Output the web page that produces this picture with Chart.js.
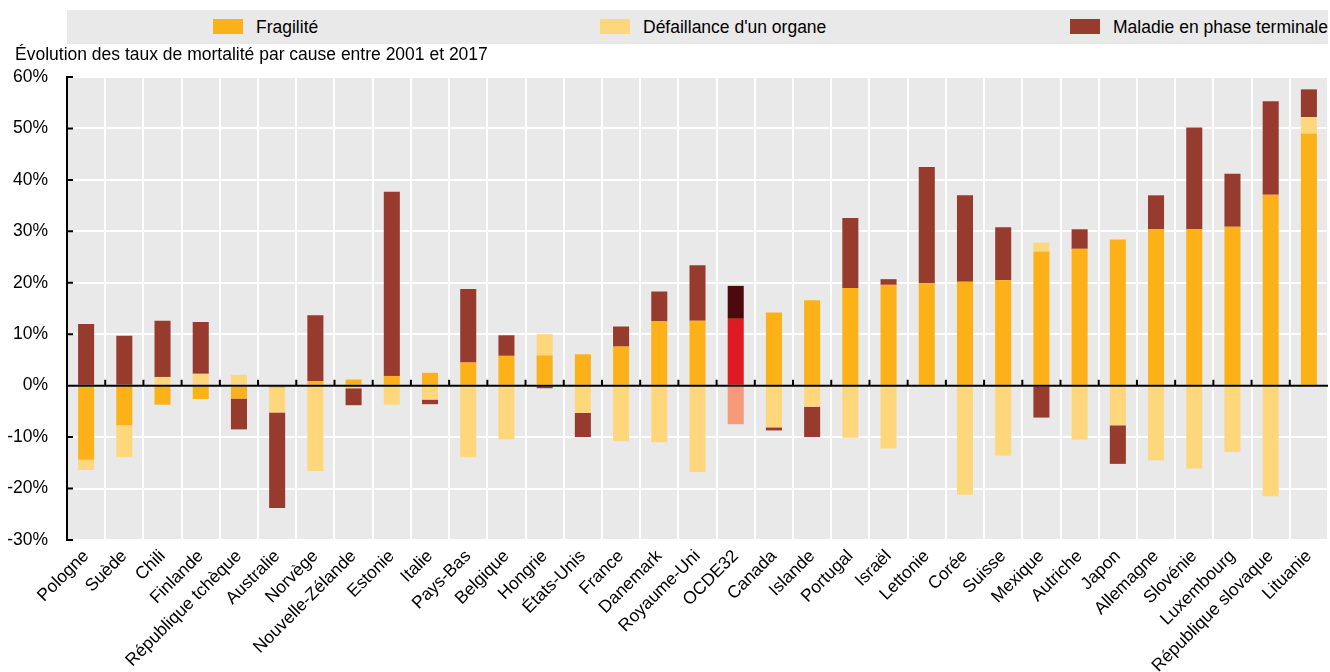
<!DOCTYPE html>
<html lang="fr">
<head>
<meta charset="utf-8">
<script src="https://cdn.jsdelivr.net/npm/chart.js@4.4.1/dist/chart.umd.min.js"></script>
<style>
  html, body { margin: 0; padding: 0; background: #fff; }
  #wrap { position: relative; width: 1330px; height: 672px; font-family: "Liberation Sans", Arial, sans-serif; }
  #legend { position: absolute; left: 67px; top: 10px; width: 1261px; height: 34px; background: #e9e9e9; }
  .item { position: absolute; top: 0; height: 34px; line-height: 34px; font-size: 17.5px; color: #000; white-space: nowrap; }
  .item span { display: inline-block; width: 30px; height: 15px; vertical-align: middle; margin-right: 13px; margin-top: -3px; }
  #ytitle { position: absolute; left: 15px; top: 44px; font-size: 17.5px; line-height: 20px; color: #000; white-space: nowrap; }
  canvas { position: absolute; left: 0; top: 0; }
</style>
</head>
<body>
<div id="wrap">
  <canvas id="chart" width="1330" height="672"></canvas>
  <div id="legend">
    <div class="item" style="left:146px"><span style="background:#fdb119"></span>Fragilité</div>
    <div class="item" style="left:533px"><span style="background:#fed77c"></span>Défaillance d'un organe</div>
    <div class="item" style="left:1003px"><span style="background:#963b2e"></span>Maladie en phase terminale</div>
  </div>
  <div id="ytitle">Évolution des taux de mortalité par cause entre 2001 et 2017</div>
</div>
<script>
// pays, du plus faible au plus fort
const categories = ['Pologne', 'Suède', 'Chili', 'Finlande', 'République tchèque', 'Australie', 'Norvège',
    'Nouvelle-Zélande', 'Estonie', 'Italie', 'Pays-Bas', 'Belgique', 'Hongrie', 'États-Unis', 'France',
    'Danemark', 'Royaume-Uni', 'OCDE32', 'Canada', 'Islande', 'Portugal', 'Israël', 'Lettonie', 'Corée',
    'Suisse', 'Mexique', 'Autriche', 'Japon', 'Allemagne', 'Slovénie', 'Luxembourg', 'République slovaque', 'Lituanie'];

// évolution en % par cause
const fragilite = [-14.4, -7.7, -3.7, -2.6, -2.5, -0.4, 0.9, 1.2, 1.9, 2.5, 4.5, 5.8, 5.9, 6.1, 7.6,
    12.5, 12.6, 13.0, 14.2, 16.6, 19.0, 19.6, 19.9, 20.2, 20.5, 26.1, 26.6, 28.4, 30.4, 30.4, 30.9, 37.1, 49.0];
const defaillance = [-2.0, -6.2, 1.7, 2.3, 2.1, -4.8, -16.6, -0.5, -3.7, -2.7, -13.9, -10.4, 4.1, -5.3, -10.8,
    -11.0, -16.8, -7.5, -8.1, -4.1, -10.1, -12.2, 0, -21.2, -13.6, 1.7, -10.5, -7.7, -14.5, -16.1, -12.9, -21.5, 3.2];
const maladie = [12.0, 9.7, 10.9, 10.1, -6.0, -18.6, 12.8, -3.3, 35.8, -0.9, 14.3, 4.0, -0.5, -4.7, 3.9,
    5.8, 10.8, 6.4, -0.6, -5.9, 13.6, 1.1, 22.6, 16.8, 10.3, -6.2, 3.8, -7.5, 6.6, 19.8, 10.3, 18.2, 5.4];

const yTicks = [-30, -20, -10, 0, 10, 20, 30, 40, 50, 60];

const OECD = 'OCDE32';
const FONT = { family: 'Liberation Sans', size: 17.5 };

// couleur normale / couleur de la moyenne OCDE
function colorFor(normal, oecd) {
    return ctx => categories[ctx.dataIndex] === OECD ? oecd : normal;
}

// fond gris, ligne du zéro et petites graduations
const decorPlugin = {
    id: 'decor',
    beforeDraw(chart) {
        const a = chart.chartArea;
        const c = chart.ctx;
        c.save();
        c.fillStyle = '#e9e9e9';
        c.fillRect(a.left, a.top, a.right - a.left, a.bottom - a.top);
        c.restore();
    },
    afterDatasetsDraw(chart) {
        const a = chart.chartArea;
        const c = chart.ctx;
        const x = chart.scales.x;
        const y = chart.scales.y;
        const y0 = y.getPixelForValue(0);
        c.save();
        c.strokeStyle = '#000';
        c.lineWidth = 2;
        c.beginPath();
        c.moveTo(a.left, y0);
        c.lineTo(a.right, y0);
        // graduations entre les pays
        for (let i = 0; i < categories.length - 1; i++) {
            const xb = (x.getPixelForValue(i) + x.getPixelForValue(i + 1)) / 2;
            c.moveTo(xb, y0);
            c.lineTo(xb, y0 - 6);
        }
        // graduations de l'axe vertical
        yTicks.forEach(v => {
            const yy = y.getPixelForValue(v);
            c.moveTo(a.left, yy);
            c.lineTo(a.left + 6, yy);
        });
        c.stroke();
        c.restore();
    }
};

new Chart(document.getElementById('chart'), {
    type: 'bar',
    data: {
        labels: categories,
        datasets: [
            { label: 'Fragilité', data: fragilite, backgroundColor: colorFor('#fdb119', '#e01a22') },
            { label: "Défaillance d'un organe", data: defaillance, backgroundColor: colorFor('#fed77c', '#f69a7b') },
            { label: 'Maladie en phase terminale', data: maladie, backgroundColor: colorFor('#963b2e', '#4d0a0c') }
        ]
    },
    options: {
        responsive: false,
        animation: false,
        devicePixelRatio: 1,
        layout: { padding: { top: 77, right: 2, left: 0, bottom: 0 } },
        datasets: { bar: { categoryPercentage: 1, barPercentage: 0.42 } },
        plugins: {
            legend: { display: false },
            tooltip: { enabled: false }
        },
        scales: {
            x: {
                stacked: true,
                afterFit(scale) { scale.height = 132; },
                grid: { color: '#fff', lineWidth: 2, drawTicks: false },
                border: { display: false },
                ticks: {
                    autoSkip: false,
                    minRotation: 45,
                    maxRotation: 45,
                    padding: 6,
                    color: '#000',
                    font: FONT
                }
            },
            y: {
                stacked: true,
                min: -30,
                max: 60,
                afterFit(scale) { scale.width = 67; },
                afterBuildTicks(scale) { scale.ticks = yTicks.map(v => ({ value: v })); },
                grid: { color: '#fff', lineWidth: 2, drawTicks: false },
                border: { color: '#000', width: 2 },
                ticks: {
                    padding: 19,
                    color: '#000',
                    font: FONT,
                    callback: v => v + '%'
                }
            }
        }
    },
    plugins: [decorPlugin]
});
</script>
</body>
</html>
